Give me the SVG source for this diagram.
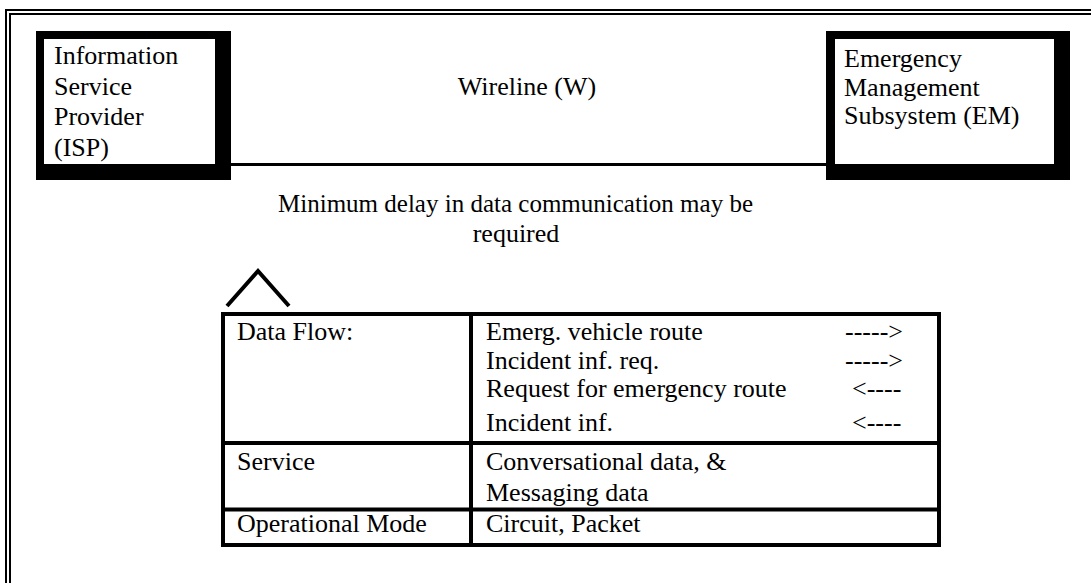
<svg xmlns="http://www.w3.org/2000/svg" width="1091" height="583" viewBox="0 0 1091 583">
<style>
text{font-family:'Liberation Serif','Times New Roman',Times,'DejaVu Serif',serif;font-size:26px;fill:#000}
.mid{text-anchor:middle}
.ln{stroke:#000;fill:none}
</style>
<rect width="1091" height="583" fill="#fff"/>
<g id="frame">
<line class="ln" x1="5" y1="10" x2="1091" y2="10" stroke-width="2"/>
<line class="ln" x1="9" y1="14" x2="1091" y2="14" stroke-width="2"/>
<line class="ln" x1="6" y1="9" x2="6" y2="583" stroke-width="2"/>
<line class="ln" x1="10" y1="13" x2="10" y2="583" stroke-width="2"/>
</g>
<g id="connectors">
<line class="ln" x1="231" y1="164.5" x2="826" y2="164.5" stroke-width="3"/>
<path class="ln" d="M227,306 L258,271 L289,306" stroke-width="4"/>
</g>
<g id="isp">
<rect x="36" y="31" width="195" height="149" fill="#000"/>
<rect x="44" y="39" width="171" height="125" fill="#fff"/>
<text x="54" y="64">Information</text>
<text x="54" y="94.5">Service</text>
<text x="54" y="125">Provider</text>
<text x="54" y="155.5">(ISP)</text>
</g>
<g id="em">
<rect x="826" y="31" width="244" height="149" fill="#000"/>
<rect x="835" y="39" width="219" height="125" fill="#fff"/>
<text x="844" y="67">Emergency</text>
<text x="844" y="95.5">Management</text>
<text x="844" y="124">Subsystem (EM)</text>
</g>
<g id="wireline">
<text class="mid" x="527" y="95">Wireline (W)</text>
</g>
<g id="note">
<text class="mid" x="515.5" y="211.5" textLength="475" lengthAdjust="spacingAndGlyphs">Minimum delay in data communication may be</text>
<text class="mid" x="516" y="241.5">required</text>
</g>
<g id="table">
<rect class="ln" x="223" y="314" width="716" height="231" stroke-width="4"/>
<line class="ln" x1="471" y1="314" x2="471" y2="545" stroke-width="4"/>
<line class="ln" x1="223" y1="443" x2="939" y2="443" stroke-width="4"/>
<line class="ln" x1="223" y1="509.5" x2="939" y2="509.5" stroke-width="4"/>
<text x="237" y="340">Data Flow:</text>
<text x="486" y="340">Emerg. vehicle route</text>
<text x="845" y="340">-----&gt;</text>
<text x="486" y="368.5">Incident inf. req.</text>
<text x="845" y="368.5">-----&gt;</text>
<text x="486" y="397">Request for emergency route</text>
<text x="852" y="397">&lt;----</text>
<text x="486" y="431">Incident inf.</text>
<text x="852" y="431">&lt;----</text>
<text x="237" y="469.5">Service</text>
<text x="486" y="469.5">Conversational data, &amp;</text>
<text x="486" y="500.5">Messaging data</text>
<text x="237" y="531.5">Operational Mode</text>
<text x="486" y="531.5">Circuit, Packet</text>
</g>
</svg>
